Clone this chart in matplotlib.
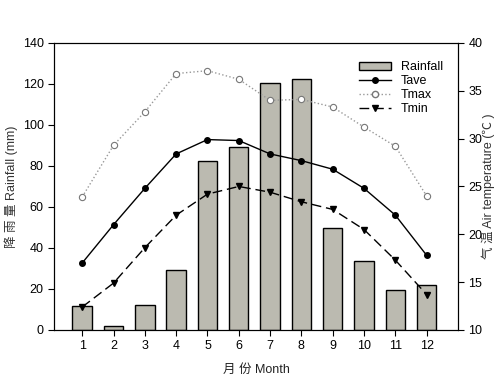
import matplotlib
matplotlib.use("Agg")
import matplotlib.pyplot as plt
from matplotlib.lines import Line2D
from matplotlib.patches import Patch

months = [1, 2, 3, 4, 5, 6, 7, 8, 9, 10, 11, 12]
rainfall = [11.6, 1.8, 12.0, 29.1, 82.3, 89.3, 120.6, 122.6, 49.6, 33.8, 19.7, 22.1]
tave = [17.0, 21.0, 24.8, 28.4, 29.9, 29.8, 28.4, 27.7, 26.8, 24.8, 22.0, 17.8]
tmax = [23.9, 29.3, 32.8, 36.8, 37.1, 36.2, 34.0, 34.1, 33.3, 31.2, 29.2, 24.0]
tmin = [12.4, 14.9, 18.6, 22.0, 24.2, 25.0, 24.4, 23.4, 22.6, 20.5, 17.3, 13.7]

plt.rcParams['font.family'] = ['Liberation Sans', 'Noto Sans CJK SC', 'DejaVu Sans']
plt.rcParams['font.size'] = 9

fig = plt.figure(figsize=(5, 3.8), dpi=100)
ax = fig.add_axes([0.108, 0.1316, 0.808, 0.7554])
ax.bar(months, rainfall, width=0.62, color='#bbbab0', edgecolor='black', linewidth=1.0, zorder=2)
ax.set_xlim(0.1, 13.0)
ax.set_ylim(0, 140)
ax.set_yticks(range(0, 141, 20))
ax.set_xticks(months)
ax.set_ylabel('降 雨 量 Rainfall (mm)', color='#333333')
ax.yaxis.set_label_coords(-0.089, 0.5)
ax.set_xlabel('月 份 Month', color='#222222', labelpad=8)
ax.tick_params(direction='out', length=4, width=0.8)

ax2 = ax.twinx()
ax2.plot(months, tave, color='black', lw=1.0, marker='o', ms=4, mfc='black', zorder=3)
ax2.plot(months, tmax, color='#999999', lw=1.0, ls=':', marker='o', ms=4.5, mfc='white', mec='#777777', mew=0.8, zorder=3)
ax2.plot(months, tmin, color='black', lw=1.0, ls=(0, (7, 3.5)), marker='v', ms=5, mfc='black', zorder=3)
ax2.set_ylim(10, 40)
ax2.set_yticks(range(10, 41, 5))
ax2.set_ylabel('气 温 Air temperature (℃ )', color='#333333')
ax2.yaxis.set_label_coords(1.059, 0.5)
ax2.tick_params(direction='out', length=4, width=0.8)

handles = [
    Patch(facecolor='#bbbab0', edgecolor='black', linewidth=1.0),
    Line2D([], [], color='black', lw=1.0, marker='o', ms=4),
    Line2D([], [], color='#999999', lw=1.0, ls=':', marker='o', ms=4.5, mfc='white', mec='#777777'),
    Line2D([], [], color='black', lw=1.0, ls=(0, (7, 3.5)), marker='v', ms=5),
]
ax2.legend(handles, ['Rainfall', 'Tave', 'Tmax', 'Tmin'], loc='upper right', frameon=False,
           bbox_to_anchor=(0.99, 0.975), handlelength=2.5, handletextpad=0.8, labelspacing=0.15, fontsize=9)

fig.savefig('out.png', dpi=100)
